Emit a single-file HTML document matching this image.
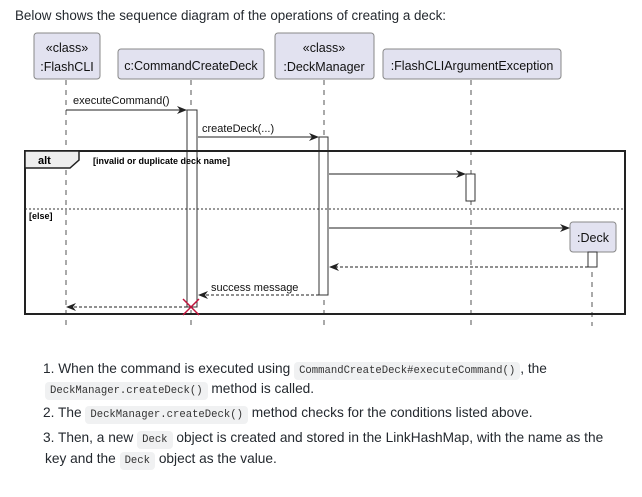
<!DOCTYPE html>
<html><head><meta charset="utf-8"><style>
html,body{margin:0;padding:0;background:#fff;width:642px;height:497px;overflow:hidden;font-family:"Liberation Sans",sans-serif;color:#24292f}
.t{position:absolute;font-size:13.7px;white-space:nowrap}
.h{font-size:13.4px}
code{font-family:"Liberation Mono",monospace;font-size:10.6px;background:#f0f1f2;border-radius:4px;padding:3px 5px;color:#333}
</style></head><body>
<div class="t h" style="left:15px;top:8px;">Below shows the sequence diagram of the operations of creating a deck:</div>
<svg width="642" height="497" style="position:absolute;left:0;top:0" font-family="Liberation Sans, sans-serif">
<defs><marker id="a" markerWidth="10" markerHeight="8" refX="9" refY="4" orient="auto" markerUnits="userSpaceOnUse"><path d="M0,0 L10,4 L0,8 L3,4 Z" fill="#222"/></marker></defs>
<g stroke="#555" stroke-width="1" stroke-dasharray="5,5">
<line x1="66" y1="80" x2="66" y2="326"/><line x1="191" y1="80" x2="191" y2="326"/><line x1="324" y1="80" x2="324" y2="326"/><line x1="471" y1="80" x2="471" y2="326"/><line x1="592" y1="252" x2="592" y2="326"/>
</g>
<g fill="#e2e2f0" stroke="#888" stroke-width="1">
<rect x="34" y="33" width="66" height="46" rx="3"/><rect x="118" y="49" width="146" height="30" rx="3"/><rect x="275" y="33" width="99" height="46" rx="3"/><rect x="383" y="49" width="178" height="30" rx="3"/><rect x="570" y="222" width="46" height="30" rx="3"/>
</g>
<g font-size="12.5" fill="#111" text-anchor="middle">
<text x="67" y="52">«class»</text><text x="67" y="71">:FlashCLI</text>
<text x="191" y="70">c:CommandCreateDeck</text>
<text x="324" y="52">«class»</text><text x="324" y="71">:DeckManager</text>
<text x="472" y="70">:FlashCLIArgumentException</text>
<text x="593" y="242">:Deck</text>
</g>
<g fill="#fff" stroke="#333" stroke-width="1">
<rect x="187" y="110" width="10" height="197"/><rect x="319" y="137" width="9" height="158"/><rect x="466" y="174" width="9" height="27"/><rect x="588" y="252" width="9" height="15"/>
</g>
<rect x="25" y="151" width="600" height="163" fill="none" stroke="#222" stroke-width="2"/>
<path d="M25,151 H79 V160 L70,168 H25 Z" fill="#eee" stroke="#222" stroke-width="1.5"/>
<text x="38" y="164" font-size="11" font-weight="bold">alt</text>
<text x="93" y="164" font-size="9" font-weight="bold">[invalid or duplicate deck name]</text>
<line x1="25" y1="209" x2="625" y2="209" stroke="#333" stroke-dasharray="2,2"/>
<text x="29" y="219" font-size="9" font-weight="bold">[else]</text>
<g stroke="#222" stroke-width="1" fill="none">
<line x1="66" y1="110" x2="186" y2="110" marker-end="url(#a)"/>
<line x1="198" y1="137" x2="318" y2="137" marker-end="url(#a)"/>
<line x1="329" y1="174" x2="465" y2="174" marker-end="url(#a)"/>
<line x1="329" y1="228" x2="569" y2="228" marker-end="url(#a)"/>
<line x1="588" y1="267" x2="330" y2="267" stroke-dasharray="3,2" marker-end="url(#a)"/>
<line x1="319" y1="295" x2="199" y2="295" stroke-dasharray="3,2" marker-end="url(#a)"/>
<line x1="187" y1="307" x2="67" y2="307" stroke-dasharray="3,2" marker-end="url(#a)"/>
</g>
<g font-size="11" fill="#111">
<text x="73" y="104">executeCommand()</text><text x="202" y="132">createDeck(...)</text><text x="211" y="291">success message</text>
</g>
<g stroke="#c0143c" stroke-width="1.5"><line x1="183" y1="299" x2="199" y2="315"/><line x1="199" y1="299" x2="183" y2="315"/></g>
</svg>
<div class="t" style="left:43px;top:361px;">1. When the command is executed using <code>CommandCreateDeck#executeCommand()</code>, the</div>
<div class="t" style="left:45px;top:381px;"><code>DeckManager.createDeck()</code> method is called.</div>
<div class="t" style="left:43px;top:405px;">2. The <code>DeckManager.createDeck()</code> method checks for the conditions listed above.</div>
<div class="t" style="left:43px;top:430px;">3. Then, a new <code>Deck</code> object is created and stored in the LinkHashMap, with the name as the</div>
<div class="t" style="left:45px;top:451px;">key and the <code>Deck</code> object as the value.</div>
</body></html>
